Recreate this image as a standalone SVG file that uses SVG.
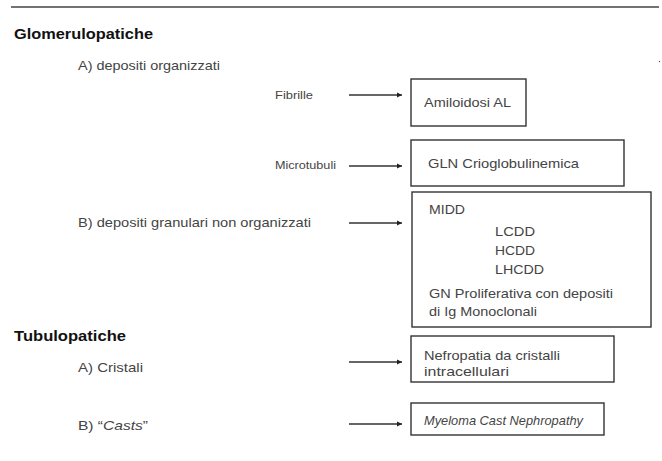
<svg xmlns="http://www.w3.org/2000/svg" width="662" height="461" viewBox="0 0 662 461">
<defs>
<marker id="ah" markerWidth="6" markerHeight="6" refX="5" refY="3" orient="auto" markerUnits="userSpaceOnUse">
<path d="M0,0.5 L5,3 L0,5.5 Z" fill="#222"/>
</marker>
<style>
.h{font-family:"Liberation Sans",Arial,sans-serif;font-weight:bold;font-size:15px;fill:#111}
.t{font-family:"Liberation Sans",Arial,sans-serif;font-size:13px;fill:#444}
.s{font-family:"Liberation Sans",Arial,sans-serif;font-size:11px;fill:#444}
.i{font-style:italic}
.box{fill:#fff;stroke:#333;stroke-width:1.4}
.ar{stroke:#333;stroke-width:1.4;fill:none;marker-end:url(#ah)}
</style>
</defs>
<rect width="662" height="461" fill="#fff"/>
<line x1="11" y1="7" x2="659" y2="7" stroke="#444" stroke-width="1.5"/>
<circle cx="659.5" cy="61.5" r="0.7" fill="#555"/>

<g id="labels">
<text class="h" x="14" y="39" textLength="139" lengthAdjust="spacingAndGlyphs">Glomerulopatiche</text>
<text class="t" x="78" y="70" textLength="142" lengthAdjust="spacingAndGlyphs">A) depositi organizzati</text>
<text class="s" x="275" y="99" textLength="38" lengthAdjust="spacingAndGlyphs">Fibrille</text>
<text class="s" x="275" y="169" textLength="61" lengthAdjust="spacingAndGlyphs">Microtubuli</text>
<text class="t" x="78" y="227" textLength="233" lengthAdjust="spacingAndGlyphs">B) depositi granulari non organizzati</text>
<text class="h" x="14" y="341" textLength="112" lengthAdjust="spacingAndGlyphs">Tubulopatiche</text>
<text class="t" x="78" y="372" textLength="65" lengthAdjust="spacingAndGlyphs">A) Cristali</text>
<text class="t" x="78" y="430" textLength="70" lengthAdjust="spacingAndGlyphs">B) “<tspan class="i">Casts</tspan>”</text>
</g>

<g id="connectors">
<line class="ar" x1="349" y1="95" x2="402" y2="95"/>
<line class="ar" x1="349" y1="166" x2="402" y2="166"/>
<line class="ar" x1="349" y1="223" x2="402" y2="223"/>
<line class="ar" x1="349" y1="362" x2="402" y2="362"/>
<line class="ar" x1="349" y1="424" x2="402" y2="424"/>
</g>

<g id="amiloidosi">
<rect class="box" x="411" y="79" width="115" height="47"/>
<text class="t" x="424" y="107" textLength="87" lengthAdjust="spacingAndGlyphs">Amiloidosi AL</text>
</g>

<g id="gln">
<rect class="box" x="411" y="140" width="213" height="46"/>
<text class="t" x="428" y="168" textLength="151" lengthAdjust="spacingAndGlyphs">GLN Crioglobulinemica</text>
</g>

<g id="midd">
<rect class="box" x="412" y="192" width="239" height="135"/>
<text class="t" x="429" y="214" textLength="36" lengthAdjust="spacingAndGlyphs">MIDD</text>
<text class="t" x="495" y="236" textLength="40" lengthAdjust="spacingAndGlyphs">LCDD</text>
<text class="t" x="495" y="255" textLength="40" lengthAdjust="spacingAndGlyphs">HCDD</text>
<text class="t" x="495" y="274" textLength="49" lengthAdjust="spacingAndGlyphs">LHCDD</text>
<text class="t" x="429" y="298" textLength="184" lengthAdjust="spacingAndGlyphs">GN Proliferativa con depositi</text>
<text class="t" x="429" y="316" textLength="108" lengthAdjust="spacingAndGlyphs">di Ig Monoclonali</text>
</g>

<g id="nefropatia">
<rect class="box" x="411" y="336" width="203" height="46"/>
<text class="t" x="424" y="360" textLength="136" lengthAdjust="spacingAndGlyphs">Nefropatia da cristalli</text>
<text class="t" x="424" y="376" textLength="85" lengthAdjust="spacingAndGlyphs">intracellulari</text>
</g>

<g id="myeloma">
<rect class="box" x="411" y="403" width="193" height="32"/>
<text class="t i" x="424" y="425" font-size="12" textLength="159" lengthAdjust="spacingAndGlyphs">Myeloma Cast Nephropathy</text>
</g>
</svg>
